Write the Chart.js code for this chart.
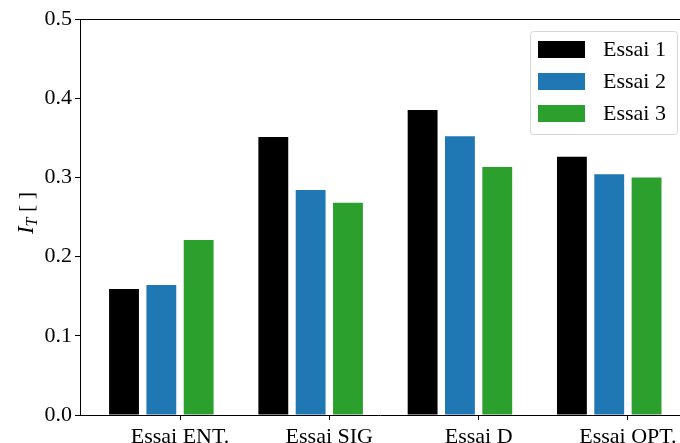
<!DOCTYPE html>
<html>
<head>
<meta charset="utf-8">
<script src="https://cdn.jsdelivr.net/npm/chart.js@4"></script>
<style>
  html, body { margin: 0; padding: 0; background: #fff; }
  canvas { display: block; }
</style>
</head>
<body>
<canvas id="barChart" width="680" height="443"></canvas>
<script>
// Values
var categories = ['Essai ENT.', 'Essai SIG', 'Essai D', 'Essai OPT.'];
var essai1 = [0.159, 0.351, 0.385, 0.326];
var essai2 = [0.164, 0.284, 0.352, 0.304];
var essai3 = [0.221, 0.268, 0.313, 0.300];
var yTicks = [0.0, 0.1, 0.2, 0.3, 0.4, 0.5];

var FONT = "'Liberation Serif', 'Times New Roman', serif";

// top spine + y label with subscript + boxed legend
var decorations = {
    id: 'decorations',
    afterDraw: function (chart) {
        var c = chart.ctx, a = chart.chartArea;
        c.save();
        c.strokeStyle = '#000';
        c.lineWidth = 1;
        c.beginPath();
        c.moveTo(a.left, a.top + 0.5);
        c.lineTo(a.right, a.top + 0.5);
        c.stroke();

        // y axis title: I_T [ ]
        c.translate(25, 213);
        c.rotate(-Math.PI / 2);
        c.fillStyle = '#000';
        c.textBaseline = 'alphabetic';
        var parts = [
            { t: 'I', f: 'italic 23px ' + FONT, dy: 0 },
            { t: 'T', f: 'italic 16px ' + FONT, dy: 4 },
            { t: ' [ ]', f: '22px ' + FONT, dy: 0 }
        ];
        var total = 0;
        parts.forEach(function (p) { c.font = p.f; p.w = c.measureText(p.t).width; total += p.w; });
        var x = -total / 2;
        parts.forEach(function (p) { c.font = p.f; c.fillText(p.t, x, 8 + p.dy); x += p.w; });
        c.restore();

        // legend
        c.save();
        c.fillStyle = 'rgba(255,255,255,0.8)';
        c.strokeStyle = '#d6d6d6';
        c.lineWidth = 1;
        c.beginPath();
        c.roundRect(530.5, 31.5, 147, 103, 3);
        c.fill();
        c.stroke();
        c.font = '22px ' + FONT;
        c.textBaseline = 'middle';
        var row = 0;
        chart.data.datasets.forEach(function (ds) {
            if (!ds.label) return;
            var cy = 49.5 + row * 32;
            c.fillStyle = ds.backgroundColor;
            c.fillRect(538, cy - 8.5, 47, 17);
            c.fillStyle = '#000';
            c.fillText(ds.label, 603, cy + 1);
            row++;
        });
        c.restore();
    }
};

var ctx = document.getElementById('barChart').getContext('2d');
var barChart = new Chart(ctx, {
    type: 'bar',
    data: {
        labels: categories.map(function (_, i) { return i; }),
        datasets: [{
            label: 'Essai 1',
            data: essai1,
            backgroundColor: '#000000'
        }, {
            label: 'Essai 2',
            data: essai2,
            backgroundColor: '#1f77b4'
        }, {
            label: 'Essai 3',
            data: essai3,
            backgroundColor: '#2ca02c'
        }, {
            // empty slot so the tick sits between the 2nd and 3rd bar
            label: '',
            data: [null, null, null, null],
            backgroundColor: 'rgba(0,0,0,0)'
        }]
    },
    options: {
        responsive: false,
        animation: false,
        categoryPercentage: 1.0,
        barPercentage: 0.8,
        elements: { bar: { borderWidth: 0, inflateAmount: 0 } },
        layout: { padding: { top: 19, right: 0, left: 0, bottom: 0 } },
        plugins: {
            legend: { display: false },
            tooltip: { enabled: false }
        },
        scales: {
            x: {
                type: 'linear',
                min: -100 / 149.3,
                max: 500 / 149.3,
                offset: false,
                afterBuildTicks: function (scale) {
                    scale.ticks = categories.map(function (_, i) { return { value: i }; });
                },
                afterFit: function (scale) {
                    scale.height = 28;
                    scale.paddingLeft = 0;
                    scale.paddingRight = 0;
                },
                grid: { offset: false, drawOnChartArea: false, tickLength: 5, lineWidth: 1, color: '#000' },
                border: { color: '#000', width: 1 },
                ticks: {
                    autoSkip: false,
                    maxRotation: 0,
                    padding: 4,
                    color: '#000',
                    font: { family: FONT, size: 22 },
                    callback: function (v) { return categories[v] || ''; }
                }
            },
            y: {
                min: 0,
                max: 0.5,
                afterBuildTicks: function (scale) {
                    scale.ticks = yTicks.map(function (v) { return { value: v }; });
                },
                afterFit: function (scale) {
                    scale.width = 80;
                    scale.paddingTop = 0;
                    scale.paddingBottom = 0;
                },
                grid: { drawOnChartArea: false, tickLength: 5, color: '#000' },
                border: { color: '#000', width: 1 },
                ticks: {
                    padding: 3,
                    color: '#000',
                    font: { family: FONT, size: 22 },
                    callback: function (v) { return v.toFixed(1); }
                }
            }
        }
    },
    plugins: [decorations]
});
</script>
</body>
</html>
